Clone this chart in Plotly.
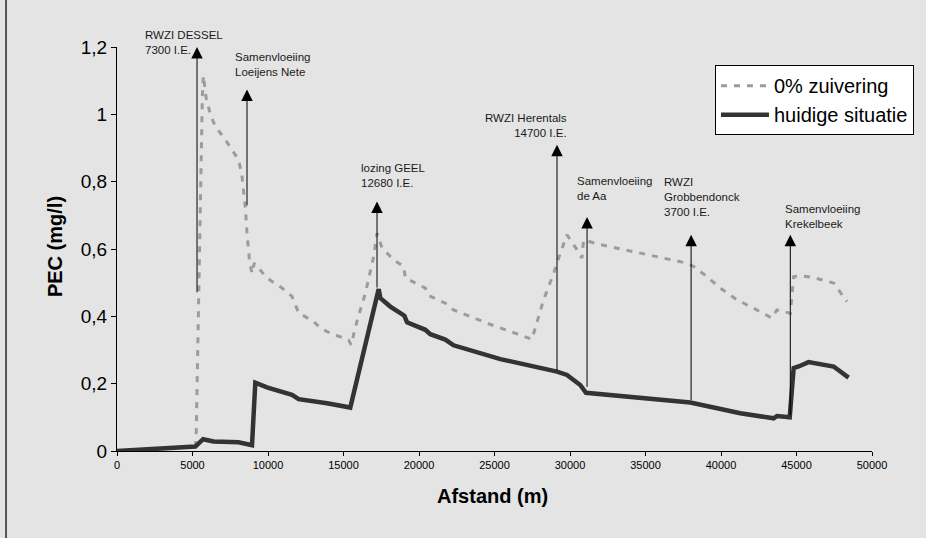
import plotly.graph_objects as go

# Afstand langs de waterloop (m) en PEC (mg/l) - huidige situatie
afstand_huidig = [0, 5190, 5700, 6400, 8050, 8940, 9160, 9930, 11590, 12030, 13910,
                  15450, 17330, 17440, 18100, 19030, 19210, 20420, 20750, 21740, 22290,
                  25390, 29140, 29800, 30680, 31060, 37970, 41280, 43490, 43710, 44550,
                  44810, 45140, 45800, 47460, 48450]
pec_huidig = [0, 0.013, 0.035, 0.028, 0.026, 0.017, 0.203, 0.189, 0.167, 0.154, 0.142,
              0.129, 0.481, 0.454, 0.429, 0.402, 0.382, 0.360, 0.347, 0.331, 0.314,
              0.273, 0.236, 0.226, 0.196, 0.173, 0.144, 0.112, 0.097, 0.104, 0.100,
              0.246, 0.251, 0.264, 0.251, 0.218]

# PEC (mg/l) zonder zuivering
afstand_0 = [0, 5190, 5250, 5340, 5450, 5560, 5650, 5720, 5900, 6180, 6500, 7170, 7720,
             8050, 8270, 8400, 8500, 8610, 8780, 8940, 9090, 9930, 10930, 11590, 12030,
             13020, 13470, 14130, 15340, 15500, 15890, 16450, 17000, 17220, 17550, 18320,
             18980, 19100, 19760, 20420, 20640, 21740, 22290, 23400, 24600, 26050, 27480,
             28250, 28920, 29360, 29800, 30460, 30790, 30900, 32000, 34430, 36640, 37740,
             38190, 39070, 39950, 41060, 42160, 43370, 43700, 44590, 44810, 45250, 46030,
             47460, 48340]
pec_0 = [0, 0.013, 0.06, 0.30, 0.60, 0.90, 1.05, 1.115, 1.05, 1.0, 0.965, 0.925, 0.885,
         0.865, 0.82, 0.76, 0.722, 0.647, 0.563, 0.528, 0.558, 0.514, 0.484, 0.459, 0.41,
         0.385, 0.365, 0.35, 0.33, 0.315, 0.385, 0.469, 0.578, 0.647, 0.603, 0.568,
         0.548, 0.514, 0.499, 0.484, 0.462, 0.439, 0.419, 0.399, 0.378, 0.355, 0.332,
         0.449, 0.528, 0.588, 0.642, 0.598, 0.573, 0.627, 0.613, 0.59, 0.57, 0.558,
         0.548, 0.518, 0.484, 0.449, 0.424, 0.395, 0.419, 0.409, 0.518, 0.52, 0.516,
         0.499, 0.444]

# Lozingspunten en samenvloeiingen
punt_namen = ["RWZI DESSEL<br>7300 I.E.", "Samenvloeiing<br>Loeijens Nete",
              "lozing GEEL<br>12680 I.E.", "RWZI Herentals<br>14700 I.E.",
              "Samenvloeiing<br>de Aa", "RWZI<br>Grobbendonck<br>3700 I.E.",
              "Samenvloeiing<br>Krekelbeek"]
punt_afstand = [5300, 8610, 17220, 29140, 31130, 38020, 44590]
pijl_top = [1.2, 1.074, 0.741, 0.91, 0.695, 0.642, 0.642]
pijl_basis = [0.467, 0.725, 0.481, 0.236, 0.186, 0.147, 0.102]
label_x = [1700, 7680, 16030, 29950, 30310, 36060, 44110]
label_y = [1.2, 1.149, 0.817, 0.968, 0.779, 0.754, 0.696]
label_yshift = [5, 0, 0, 0, 0, 0, 0]
label_links = [True, True, True, False, True, True, True]

x_ticks = [0, 5000, 10000, 15000, 20000, 25000, 30000, 35000, 40000, 45000, 50000]
x_ticktext = ["0", "5000", "10000", "15000", "20000", "25000", "30000", "35000",
              "40000", "45000", "50000"]
y_ticks = [0, 0.2, 0.4, 0.6, 0.8, 1.0, 1.2]
y_ticktext = ["0", "0,2", "0,4", "0,6", "0,8", "1", "1,2"]

FONT = "Liberation Sans, Arial, sans-serif"
BG = "#e4e4e4"

fig = go.Figure()
fig.add_trace(go.Scatter(
    x=afstand_0, y=pec_0, mode="lines", name="0% zuivering",
    line=dict(color="#9c9c9c", width=3, dash="6px,7px"),
))
fig.add_trace(go.Scatter(
    x=afstand_huidig, y=pec_huidig, mode="lines", name="huidige situatie",
    line=dict(color="#333333", width=4.5),
))

annotations = []
for xa, top, basis in zip(punt_afstand, pijl_top, pijl_basis):
    annotations.append(dict(
        x=xa, y=top, ax=xa, ay=basis, xref="x", yref="y", axref="x", ayref="y",
        text="", showarrow=True, arrowhead=2, arrowsize=2.3, arrowwidth=1,
        arrowcolor="#000000", standoff=0, startstandoff=0,
    ))
for naam, lx, ly, dy, links in zip(punt_namen, label_x, label_y, label_yshift, label_links):
    annotations.append(dict(
        x=lx, y=ly, yshift=dy, xref="x", yref="y", text=naam, showarrow=False,
        xanchor="left" if links else "right", yanchor="middle",
        align="left" if links else "right",
        font=dict(family=FONT, size=11.5, color="#1a1a1a"),
    ))
annotations.append(dict(
    x=0.498, y=-0.111, xref="paper", yref="paper", text="<b>Afstand (m)</b>",
    showarrow=False, xanchor="center", yanchor="middle",
    font=dict(family=FONT, size=20, color="#000000"),
))
annotations.append(dict(
    x=-0.082, y=0.505, xref="paper", yref="paper", text="<b>PEC (mg/l)</b>",
    showarrow=False, xanchor="center", yanchor="middle", textangle=-90,
    font=dict(family=FONT, size=20, color="#000000"),
))

fig.update_layout(
    width=926, height=538,
    margin=dict(l=117, r=54, t=47, b=87),
    paper_bgcolor=BG, plot_bgcolor=BG,
    font=dict(family=FONT, color="#000000"),
    showlegend=True,
    legend=dict(
        x=0.792, y=0.955, xanchor="left", yanchor="top",
        bgcolor="#ffffff", bordercolor="#000000", borderwidth=1,
        font=dict(family=FONT, size=20, color="#000000"),
        itemwidth=48, tracegroupgap=0,
    ),
    annotations=annotations,
    shapes=[dict(type="line", xref="paper", yref="paper",
                 x0=-0.147, x1=-0.147, y0=-0.25, y1=1.2,
                 line=dict(color="#555555", width=2))],
)
fig.update_xaxes(
    range=[0, 50000], tickvals=x_ticks, ticktext=x_ticktext,
    showgrid=False, zeroline=False, showline=True, linecolor="#000000", linewidth=1,
    ticks="outside", ticklen=4, tickcolor="#000000",
    tickfont=dict(family=FONT, size=11, color="#000000"),
)
fig.update_yaxes(
    range=[0, 1.2], tickvals=y_ticks, ticktext=y_ticktext,
    showgrid=False, zeroline=False, showline=True, linecolor="#000000", linewidth=1,
    ticks="outside", ticklen=5, tickcolor="#000000",
    tickfont=dict(family=FONT, size=19, color="#000000"),
)

fig.write_html("out.html")
